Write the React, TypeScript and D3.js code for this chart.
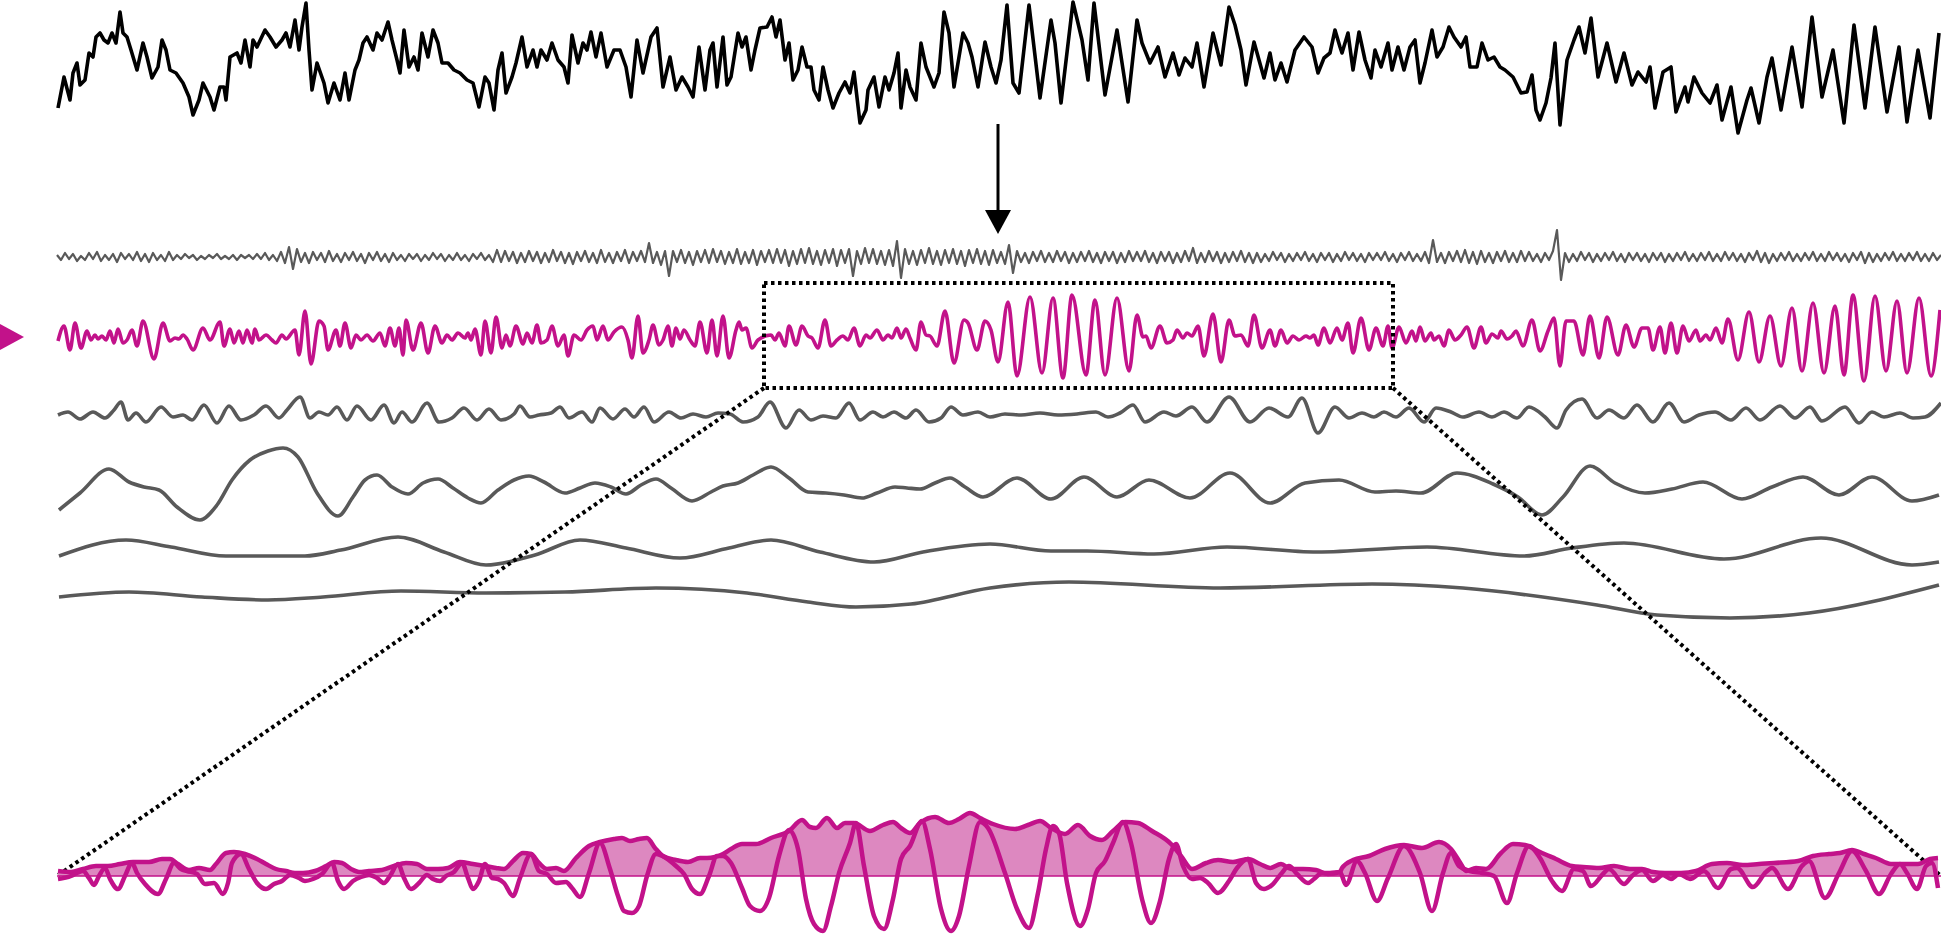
import React from 'react';
import * as d3 from 'd3';

type P = [number, number];

// Raw EEG trace (sample index, µV-like amplitude)
const rawTrace: P[] = [
[1,-38],[7,-7],[13,-30],[16,-3],[20,7],[23,-15],[28,-10],[32,17],[36,13],[39,33],[43,37],[47,30],[51,27],[55,37],[59,27],[63,58],[66,37],[70,33],[74,20],[80,0],[86,27],[90,13],[95,-8],[101,3],[105,30],[109,20],[113,0],[119,-3],[126,-13],[132,-27],[136,-45],[142,-30],[146,-13],[153,-27],[157,-40],[163,-17],[167,-17],[169,-30],[173,13],[180,17],[184,7],[188,30],[193,3],[196,30],[200,23],[208,40],[213,33],[219,23],[225,30],[229,37],[233,23],[238,50],[242,20],[245,43],[249,67],[252,20],[255,-20],[260,7],[267,-13],[271,-33],[277,-13],[283,-30],[288,-3],[292,-30],[298,0],[302,10],[306,27],[310,33],[316,20],[320,37],[325,30],[331,48],[335,30],[340,10],[343,-3],[347,40],[352,3],[357,13],[361,0],[365,37],[371,13],[376,40],[381,27],[385,7],[391,7],[397,0],[403,-3],[410,-10],[416,-13],[422,-37],[428,-7],[432,-13],[437,-40],[441,0],[445,17],[449,-23],[455,-7],[459,7],[465,33],[470,3],[476,20],[480,3],[484,20],[490,10],[495,27],[501,10],[507,3],[511,-13],[515,35],[521,7],[526,27],[530,20],[534,38],[539,13],[544,37],[550,3],[557,20],[563,20],[569,3],[574,-27],[580,30],[586,-3],[594,33],[600,42],[606,-17],[613,13],[619,-20],[625,-7],[631,-17],[636,-27],[642,23],
[648,-20],[653,20],[656,27],[660,-17],[666,33],[670,-15],[674,-7],[681,37],[685,23],[689,33],[694,0],[698,20],[703,42],[710,43],[715,53],[719,33],[723,50],[728,10],[732,27],[736,-10],[741,0],[745,23],[750,3],[754,3],[757,-20],[762,-30],[766,3],[771,-20],[776,-38],[782,-23],[788,-12],[793,-23],[797,-2],[803,-53],[809,-40],[811,-20],[817,-7],[822,-37],[828,-7],[832,-20],[837,-3],[841,17],[844,-38],[849,0],[853,-17],[859,-30],[864,27],[869,3],[877,-17],[882,-3],[887,58],[892,37],[897,-17],[906,37],[911,27],[915,13],[921,-17],[928,28],[934,3],[939,-13],[944,10],[950,65],[956,-13],[962,-23],[972,65],[983,-28],[994,50],[998,27],[1004,-33],[1016,68],[1025,30],[1031,-10],[1037,67],[1048,-25],[1060,40],[1071,-32],[1080,50],[1085,27],[1093,7],[1101,23],[1108,-7],[1116,17],[1122,-5],[1128,12],[1135,3],[1140,27],[1147,-17],[1156,37],[1164,5],[1172,63],[1178,45],[1184,20],[1189,-15],[1197,28],[1207,-8],[1213,17],[1218,-10],[1224,7],[1230,-12],[1238,20],[1247,33],[1255,23],[1261,-3],[1267,12],[1273,17],[1278,40],[1283,23],
[1285,17],[1291,37],[1296,0],[1302,38],[1308,10],[1314,-8],[1318,20],[1324,3],[1331,27],[1335,0],[1341,23],[1347,0],[1353,23],[1358,30],[1363,-13],[1368,7],[1375,40],[1380,13],[1386,23],[1392,43],[1397,33],[1404,23],[1409,33],[1413,3],[1420,3],[1425,27],[1431,10],[1437,13],[1443,3],[1448,0],[1456,-7],[1464,-23],[1470,-22],[1475,-5],[1479,-40],[1483,-50],[1489,-33],[1494,-8],[1498,27],[1503,-55],[1510,10],[1517,30],[1522,43],[1528,17],[1534,52],[1541,-7],[1550,27],[1559,-12],[1567,17],[1575,-15],[1581,-2],[1589,-12],[1593,3],[1598,-38],[1606,-2],[1614,3],[1619,-42],[1628,-17],[1631,-32],[1637,-7],[1645,-23],[1653,-33],[1660,-15],[1665,-50],[1674,-17],[1681,-63],[1690,-30],[1694,-18],[1702,-53],[1710,-7],[1715,12],[1724,-40],[1735,23],[1745,-37],[1755,53],[1765,-27],[1776,20],[1787,-53],[1797,45],[1808,-38],[1818,43],[1830,-42],[1842,23],[1850,-52],[1861,20],[1873,-48],[1882,37]
];

// High-frequency residual (uniform samples)
const noiseTrace: number[] = [
2,-3,4,-2,3,-4,1,-3,4,-2,5,-4,2,-3,3,-5,4,-2,3,-3,5,-4,3,-5,4,-3,2,-4,5,-3,
2,-2,3,-1,2,-3,1,-2,2,-1,3,-2,1,-2,2,-3,2,-1,2,-2,3,-2,4,-3,2,-4,5,-6,10,-12,
8,-5,4,-6,5,-3,4,-5,6,-4,3,-5,4,-3,5,-4,3,-6,4,-3,5,-4,3,-5,4,-3,2,-4,3,-2,
3,-4,2,-3,4,-2,3,-4,2,-3,4,-3,2,-4,3,-2,4,-3,2,-5,7,-5,6,-4,5,-6,4,-5,6,-4,
5,-6,4,-5,7,-4,5,-6,4,-7,5,-4,6,-5,4,-6,7,-5,4,-6,5,-4,7,-6,5,-4,6,-5,14,-6,
5,-8,6,-19,6,-5,7,-6,5,-8,6,-5,7,-6,8,-5,6,-7,5,-6,8,-7,5,-6,7,-8,6,-5,7,-6,
8,-6,7,-9,6,-7,8,-6,9,-7,6,-8,7,-6,8,-9,7,-6,8,-19,6,-7,9,-6,8,-7,6,-8,7,-9,
16,-21,8,-7,6,-8,7,-6,9,-7,6,-8,7,-6,8,-7,6,-9,7,-6,8,-7,6,-8,7,-6,5,-7,12,-16,
6,-5,4,-6,5,-4,6,-5,4,-5,6,-4,5,-6,4,-5,5,-4,6,-5,4,-6,5,-4,5,-6,4,-5,6,-4,
5,-4,6,-5,4,-6,5,-4,5,-6,4,-5,6,-4,9,-6,4,-5,6,-4,5,-6,4,-5,5,-4,6,-5,4,-6,
4,-5,3,-4,5,-3,4,-5,3,-4,4,-3,5,-4,3,-5,4,-3,4,-5,3,-4,5,-3,4,-4,3,-5,4,-3,
4,-3,5,-4,3,-5,4,-3,5,-4,3,-4,5,-6,17,-5,4,-6,5,-4,6,-5,7,-6,5,-7,6,-5,4,-6,
5,-4,6,-5,4,-5,6,-4,5,-4,3,-5,4,-3,6,27,-23,4,-5,3,-4,5,-3,4,-5,3,-4,4,-3,5,
-4,3,-5,4,-3,4,-4,3,-5,4,-3,4,-5,3,-4,4,-3,5,-4,3,-4,4,-3,5,-4,3,-4,5,-3,4,
-4,3,-5,4,-3,6,-5,4,-6,3,-4,4,-3,5,-4,3,-4,4,-3,5,-4,3,-4,5,-3,4,-4,3,-5,4,
-3,5,-6,4,-5,3,-4,4,-3,5,-4,3,-4,4,-3,5,-4,3,-4,4,-3,2
];

// Alpha band component (extrema, sample index / amplitude)
const alphaBand: P[] = [
[1,-4],[7,11],[13,-13],[18,14],[24,-11],[30,6],[34,-3],[38,2],[41,-2],[45,1],[49,-3],[53,6],[57,-6],[61,8],[66,-6],[70,-3],[75,7],[80,-9],[86,16],[97,-22],[106,14],[113,-4],[118,-1],[122,-2],[126,2],[130,-2],[136,-13],[146,9],[153,-3],[163,15],[167,-9],[173,8],[177,-6],[182,6],[186,-6],[190,7],[195,-6],[198,8],[202,-3],[209,2],[215,-3],[219,-6],[225,2],[229,-2],[238,7],[242,-18],[248,26],[254,-27],[262,16],[267,11],[271,-13],[279,7],[283,-9],[288,14],[294,-11],[299,2],[304,-3],[310,2],[316,-4],[323,4],[328,-9],[333,9],[338,-9],[342,9],[346,-18],[349,17],[356,-13],[364,14],[371,-16],[378,11],[385,-6],[390,2],[395,-3],[401,4],[408,-1],[411,4],[414,-3],[418,8],[424,-18],[428,16],[434,-16],[439,20],[445,-11],[449,2],[453,-9],[459,11],[466,-7],[470,4],[475,-6],[480,12],[484,-6],[490,-3],[495,11],[501,-9],[507,2],[511,-19],[517,2],[524,-3],[530,7],[536,11],[540,-3],[546,11],[551,-3],[557,5],[565,10],[571,-3],[575,-21],[581,21],[586,-16],[592,-3],[596,12],[602,-8],[606,-3],[611,11],[615,-9],[619,9],[623,-2],[627,7],[633,-3],[638,-9],[643,15],
[650,-16],[655,17],[660,-19],[666,21],[672,-21],[679,7],[682,15],[685,7],[689,9],[695,-11],[701,-3],[714,2],[718,-3],[722,4],[728,-9],[732,11],[739,-8],[745,11],[751,1],[755,-1],[761,-11],[768,17],[774,-9],[780,-3],[786,1],[791,-3],[797,9],[803,-9],[809,2],[813,-1],[820,7],[826,-3],[831,2],[835,-1],[840,9],[844,-1],[849,8],[853,-1],[859,-13],[864,15],[869,2],[873,1],[880,-9],[888,26],[897,-26],[907,17],[911,14],[920,-13],[928,16],[934,7],[941,-25],[951,35],[960,-39],[973,40],[985,-36],[996,39],[1006,-41],[1015,42],[1029,-38],[1038,37],[1048,-38],[1060,39],[1072,-34],[1080,22],[1086,0],[1089,1],[1094,-11],[1103,11],[1110,-6],[1116,-3],[1120,7],[1126,-1],[1130,4],[1135,1],[1141,11],[1147,-19],[1156,23],[1164,-25],[1172,17],[1178,1],[1184,2],[1191,-9],[1197,22],[1205,-11],[1213,7],[1218,-9],[1224,7],[1230,-6],[1236,1],[1242,-3],[1249,1],[1253,-1],[1257,2],[1261,-8],[1267,9],[1273,-6],[1280,9],
[1285,-3],[1291,14],[1296,-16],[1304,19],[1312,-13],[1319,9],[1326,-9],[1331,11],[1335,-11],[1342,10],[1349,-6],[1355,6],[1359,-4],[1363,10],[1368,-4],[1374,4],[1377,-3],[1382,1],[1387,-9],[1392,7],[1398,-3],[1404,2],[1410,10],[1417,-11],[1424,10],[1429,-6],[1435,3],[1441,-1],[1444,6],[1450,-2],[1455,1],[1459,6],[1466,-9],[1475,17],[1483,-14],[1491,6],[1497,19],[1503,-29],[1509,16],[1517,16],[1526,-18],[1533,21],[1542,-21],[1550,20],[1561,-18],[1569,12],[1577,-10],[1585,9],[1591,9],[1596,-13],[1603,10],[1608,-16],[1614,14],[1620,-16],[1626,11],[1632,-4],[1639,7],[1643,-4],[1649,2],[1653,-3],[1659,9],[1665,-6],[1671,18],[1681,-23],[1692,25],[1702,-25],[1713,21],[1724,-29],[1735,29],[1745,-34],[1756,34],[1767,-36],[1778,31],[1787,-38],[1796,42],[1807,-44],[1818,41],[1829,-34],[1840,36],[1850,-36],[1862,39],[1874,-39],[1883,27]
];

// Theta band component
const thetaBand: P[] = [
[1,-1],[11,2],[23,-5],[36,2],[48,-4],[57,4],[64,12],[71,-6],[79,1],[89,-8],[104,7],[116,-3],[126,-1],[135,-6],[147,9],[160,-9],[172,8],[184,-6],[197,-1],[209,8],[222,-4],[230,4],[243,17],[253,-4],[262,2],[271,-1],[280,7],[290,-6],[300,8],[314,-6],[327,9],[337,-9],[345,2],[355,-8],[370,11],[382,-8],[395,-4],[407,6],[420,-6],[432,5],[444,-6],[457,0],[463,8],[473,-3],[482,-1],[494,1],[503,7],[512,-4],[525,2],[535,-8],[543,6],[556,-5],[568,5],[577,-3],[587,7],[597,-8],[612,2],[624,-4],[636,0],[649,-3],[661,1],[673,0],[686,-8],[701,-3],[713,12],[729,-14],[742,4],[754,-6],[766,-2],[779,-4],[792,11],[803,-6],[816,2],[826,-3],[837,2],[849,-4],[859,4],[872,-8],[884,-4],[894,7],[906,-1],[921,2],[933,-3],[948,0],[964,-1],[983,1],[1001,-1],[1020,0],[1039,2],[1051,-3],[1063,1],[1076,9],[1088,-8],[1107,2],[1119,-2],[1135,7],[1150,-8],[1172,17],[1193,-8],[1212,6],[1231,-3],[1245,16],[1261,-19],[1278,7],[1292,-4],[1305,1],[1317,-3],[1327,2],[1339,-3],[1352,6],[1367,-8],[1379,6],[1394,2],[1406,-3],[1422,2],[1435,-3],[1447,2],[1460,-4],[1472,7],[1488,-3],[1500,-14],[1509,4],[1525,15],[1540,-4],[1552,4],[1567,-4],[1580,9],[1596,-8],[1612,11],[1627,-8],[1642,-1],[1658,2],[1674,-6],[1689,6],[1703,-6],[1723,8],[1738,-4],[1753,7],[1765,-7],[1788,7],[1802,-9],[1815,2],[1827,-3],[1843,1],[1856,-4],[1868,-3],[1884,11]
];

// Delta band component
const deltaBand: P[] = [
[2,-22],[23,-5],[52,19],[72,6],[87,1],[102,-2],[120,-19],[143,-32],[160,-17],[175,8],[193,28],[211,37],[226,40],[241,31],[260,-5],[281,-28],[296,-9],[308,8],[320,13],[335,1],[351,-6],[366,5],[381,9],[396,0],[411,-10],[424,-15],[441,-2],[457,8],[472,12],[487,6],[508,-5],[523,0],[538,5],[554,1],[569,-6],[584,3],[599,9],[614,0],[635,-13],[654,-4],[666,2],[681,5],[696,13],[714,21],[732,10],[751,-4],[769,-5],[787,-7],[805,-10],[820,-5],[838,1],[850,0],[863,-1],[878,5],[893,10],[908,1],[926,-9],[960,10],[994,-11],[1027,11],[1060,-9],[1092,8],[1133,-10],[1173,15],[1213,-15],[1248,5],[1282,8],[1318,-4],[1339,-3],[1364,-5],[1400,15],[1436,4],[1461,-9],[1485,-27],[1506,-9],[1533,22],[1558,5],[1588,-5],[1615,-1],[1646,6],[1685,-11],[1715,1],[1746,11],[1782,-7],[1815,11],[1855,-13],[1882,-7]
];

// Slow components
const slowBand: P[] = [
[2,-6],[69,10],[114,3],[169,-6],[248,-6],[284,0],[341,13],[387,-2],[429,-15],[478,-5],[523,10],[569,2],[623,-8],[672,2],[714,10],[763,-2],[817,-12],[866,-2],[933,6],[994,-1],[1030,-1],[1097,-4],[1170,3],[1260,-2],[1370,3],[1467,-6],[1515,2],[1567,7],[1667,-9],[1764,12],[1855,-15],[1882,-12]
];

const trendBand: P[] = [
[2,-2],[72,3],[145,-2],[211,-5],[266,-2],[344,4],[429,2],[508,3],[599,7],[690,2],[751,-7],[799,-12],[854,-9],[933,7],[1012,13],[1163,7],[1315,11],[1406,7],[1540,-10],[1600,-20],[1673,-23],[1752,-18],[1882,10]
];

// Zoomed alpha segment (local sample index, amplitude)
const zoomWave: P[] = [
[1,-3],[14,0],[20,3],[26,5],[32,-2],[37,-9],[42,0],[48,8],[53,-3],[61,-13],[68,0],[75,13],[80,3],[88,-8],[101,-18],[109,-3],[117,13],[124,7],[130,5],[140,2],[148,-8],[157,-7],[166,-18],[171,-7],[175,13],[184,22],[192,7],[200,-7],[209,-13],[217,-8],[225,-5],[233,1],[242,-2],[248,-5],[256,-3],[265,2],[275,13],[281,-5],[287,-13],[296,-5],[304,-1],[312,1],[320,-2],[327,-7],[333,0],[341,12],[347,-2],[354,-13],[362,-7],[370,1],[376,-3],[383,-5],[389,0],[397,4],[405,13],[411,-2],[416,-13],[422,-5],[428,12],[435,-2],[441,-3],[447,-7],[456,-20],[463,-2],[474,22],[482,5],[490,2],[499,-7],[509,-6],[515,-12],[523,-21],[532,3],[543,33],[553,7],[561,-20],[567,-35],[575,-37],[582,-30],[590,0],[599,22],[609,18],[619,10],[627,2],[635,-13],[643,-18],
[652,0],[660,20],[666,20],[674,13],[685,-12],[693,-30],[703,-35],[712,-22],[722,20],[732,46],[741,27],[749,-23],[757,-48],[766,-55],[774,-30],[782,3],[793,33],[799,53],[807,10],[817,-40],[827,-53],[836,-23],[844,17],[853,30],[865,55],[873,27],[884,-33],[894,-55],[902,-40],[912,10],[923,54],[931,48],[948,3],[960,-33],[972,-52],[981,-17],[989,27],[996,50],[1002,43],[1010,-7],[1023,-50],[1031,-33],[1039,3],[1048,15],[1056,33],[1066,54],[1074,33],[1085,-23],[1094,-47],[1103,-25],[1112,17],[1119,32],[1126,10],[1135,-3],[1143,-2],[1151,-7],[1161,-17],[1172,-5],[1180,8],[1191,17],[1199,-7],[1207,-13],[1215,-9],[1224,2],[1232,10],[1240,2],[1251,-7],[1257,-3],[1265,3],[1273,3],[1283,4],
[1289,-9],[1300,15],[1308,3],[1320,-25],[1331,-2],[1347,30],[1363,3],[1375,-35],[1386,3],[1394,23],[1402,10],[1413,5],[1425,3],[1437,0],[1450,-27],[1460,3],[1472,30],[1483,18],[1495,-5],[1505,-15],[1517,7],[1526,5],[1534,-10],[1546,2],[1552,7],[1567,-8],[1575,0],[1585,6],[1596,-5],[1606,1],[1614,-3],[1622,2],[1633,-3],[1647,5],[1661,-12],[1674,7],[1680,8],[1696,-11],[1709,4],[1715,8],[1731,-13],[1745,10],[1752,15],[1768,-22],[1782,3],[1795,25],[1809,5],[1822,-18],[1834,2],[1843,12],[1850,3],[1860,-13],[1869,10],[1875,13],[1881,-12]
];

// Amplitude envelope of the zoomed segment
const zoomEnvelope: P[] = [
[1,5],[14,4],[26,7],[39,10],[51,10],[63,12],[76,14],[92,14],[105,17],[113,17],[121,12],[132,6],[142,8],[153,6],[159,12],[169,23],[177,24],[188,22],[200,17],[209,12],[219,7],[229,5],[238,3],[246,3],[258,5],[269,10],[277,14],[285,13],[294,7],[302,4],[312,5],[325,6],[337,10],[349,13],[360,12],[370,7],[381,7],[391,8],[403,14],[416,12],[428,10],[439,8],[447,7],[456,15],[466,23],[474,22],[482,13],[490,7],[499,8],[507,5],[519,18],[532,30],[543,34],[557,37],[565,38],[573,35],[582,37],[590,38],[598,28],[606,20],[619,16],[631,14],[643,18],
[650,18],[666,22],[674,27],[685,32],[699,32],[714,38],[732,45],[745,56],[753,49],[759,48],[770,58],[780,48],[788,53],[797,53],[813,45],[826,51],[836,54],[844,48],[853,43],[863,53],[878,59],[892,53],[902,57],[913,63],[923,58],[936,52],[958,47],[971,51],[983,55],[994,48],[1008,42],[1021,51],[1033,40],[1045,36],[1056,45],[1068,54],[1081,53],[1095,45],[1114,32],[1124,20],[1135,7],[1149,13],[1161,16],[1176,14],[1191,17],[1203,12],[1213,8],[1224,12],[1234,7],[1246,7],[1259,6],[1271,2],[1283,4],
[1285,8],[1296,16],[1312,20],[1328,27],[1347,31],[1365,28],[1382,34],[1394,27],[1404,12],[1409,5],[1419,8],[1429,7],[1444,23],[1456,32],[1468,31],[1483,24],[1499,17],[1515,10],[1526,9],[1542,8],[1557,10],[1573,7],[1585,7],[1596,4],[1608,3],[1624,3],[1639,5],[1655,12],[1670,13],[1686,11],[1702,12],[1717,13],[1741,15],[1756,20],[1772,22],[1783,23],[1795,26],[1807,22],[1819,18],[1834,12],[1846,12],[1861,12],[1873,17],[1881,18]
];

// Zoom window on the alpha trace (sample index range, amplitude range)
const zoomRange: number[] = [707, 1336];
const zoomAmp: number[] = [-51, 54];
const arrowSample = 941;

const MAGENTA = '#c2128a';
const FILL = '#dd88c0';
const GRAY = '#595959';

export default function App() {
  const x = d3.scaleLinear().domain([0, 1884]).range([57, 1941]);
  const band = (c: number, half: number) =>
    d3.scaleLinear().domain([-half, half]).range([c + half, c - half]);

  const yRaw = band(70, 70);
  const yNoise = band(257, 30);
  const yAlpha = band(337, 60);
  const yTheta = band(414, 30);
  const yDelta = band(488, 50);
  const ySlow = band(550, 30);
  const yTrend = band(595, 30);
  const yZoom = band(876, 60);

  const xNoise = d3.scaleLinear().domain([0, noiseTrace.length - 1]).range([57, 1941]);
  const xZoom = d3.scaleLinear().domain([0, 1884]).range([57, 1941]);

  const lin = (ys: d3.ScaleLinear<number, number>) =>
    d3.line<P>().x(d => x(d[0])).y(d => ys(d[1]));
  const smooth = (ys: d3.ScaleLinear<number, number>, xs = x) =>
    d3.line<P>().x(d => xs(d[0])).y(d => ys(d[1])).curve(d3.curveMonotoneX);

  const noisePath = d3.line<number>()
    .x((_, i) => xNoise(i))
    .y(d => yNoise(d))(noiseTrace) || '';

  const envArea = d3.area<P>()
    .x(d => xZoom(d[0]))
    .y0(yZoom(0))
    .y1(d => yZoom(d[1]))
    .curve(d3.curveMonotoneX)(zoomEnvelope) || '';

  const rx0 = x(zoomRange[0]);
  const rx1 = x(zoomRange[1]);
  const ry0 = yAlpha(zoomAmp[1]);
  const ry1 = yAlpha(zoomAmp[0]);
  const ax = x(arrowSample);

  const dotted = { stroke: '#000', strokeWidth: 4, strokeDasharray: '3.5 3.5', fill: 'none' };

  return (
    <svg width={1941} height={935} style={{ position: 'absolute', left: 0, top: 0, display: 'block', background: '#fff' }}>
      {/* raw trace */}
      <path d={lin(yRaw)(rawTrace) || ''} fill="none" stroke="#000" strokeWidth={3.6} strokeLinejoin="round" />

      {/* arrow */}
      <line x1={ax} x2={ax} y1={124} y2={214} stroke="#000" strokeWidth={3} />
      <polygon points={`${ax - 13},${210} ${ax + 13},${210} ${ax},${234}`} fill="#000" />

      {/* noise */}
      <path d={noisePath} fill="none" stroke={GRAY} strokeWidth={2.2} strokeLinejoin="round" />

      {/* alpha band */}
      <polygon points={`0,324 24,337 0,350`} fill={MAGENTA} />
      <path d={smooth(yAlpha)(alphaBand) || ''} fill="none" stroke={MAGENTA} strokeWidth={3.6} />

      {/* other bands */}
      <path d={smooth(yTheta)(thetaBand) || ''} fill="none" stroke={GRAY} strokeWidth={3.6} />
      <path d={smooth(yDelta)(deltaBand) || ''} fill="none" stroke={GRAY} strokeWidth={3.6} />
      <path d={smooth(ySlow)(slowBand) || ''} fill="none" stroke={GRAY} strokeWidth={3.6} />
      <path d={smooth(yTrend)(trendBand) || ''} fill="none" stroke={GRAY} strokeWidth={3.6} />

      {/* zoom window */}
      <rect x={rx0} y={ry0} width={rx1 - rx0} height={ry1 - ry0} {...dotted} />
      <line x1={rx0} y1={ry1} x2={xZoom(0)} y2={yZoom(0)} {...dotted} />
      <line x1={rx1} y1={ry1} x2={xZoom(1884)} y2={yZoom(0)} {...dotted} />

      {/* zoomed panel */}
      <path d={envArea} fill={FILL} stroke="none" />
      <line x1={xZoom(0)} x2={xZoom(1884)} y1={yZoom(0)} y2={yZoom(0)} stroke={MAGENTA} strokeWidth={1.5} />
      <path d={smooth(yZoom, xZoom)(zoomEnvelope) || ''} fill="none" stroke={MAGENTA} strokeWidth={4.5} />
      <path d={smooth(yZoom, xZoom)(zoomWave) || ''} fill="none" stroke={MAGENTA} strokeWidth={4.5} />
    </svg>
  );
}
